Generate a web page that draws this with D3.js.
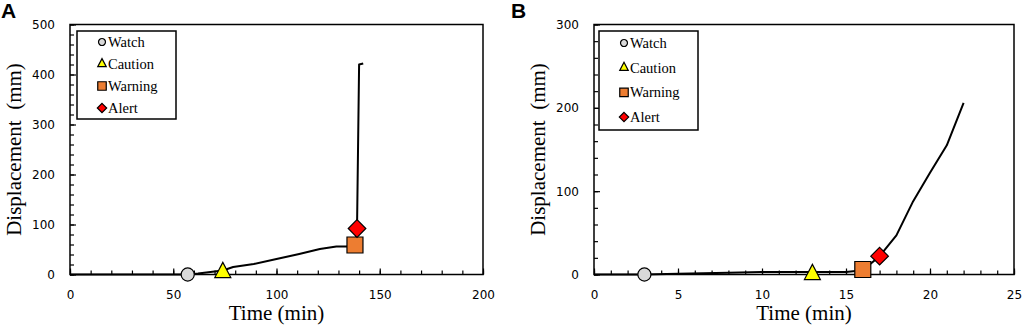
<!DOCTYPE html>
<html><head><meta charset="utf-8">
<script src="https://cdn.jsdelivr.net/npm/d3@7"></script>
<style>body{margin:0;background:#fff}svg{display:block}</style>
</head><body>
<svg id="c" width="1024" height="326"></svg>
<script>
// Panel A data
const timeA = [0, 57, 62, 74, 79, 89, 100, 111, 121, 129, 134, 138, 139, 140, 142];
const dispA = [0, 0, 2, 8, 15, 21, 31, 41, 51, 56, 56, 60, 93, 420, 422];
const markTimeA = [57, 74, 138, 139];
const markDispA = [0, 4, 59, 92];
const xTicksA = [0, 50, 100, 150, 200];
const yTicksA = [0, 100, 200, 300, 400, 500];

// Panel B data
const timeB = [0, 3, 5, 8, 10, 13, 15, 16, 17, 18, 19, 20, 21, 22];
const dispB = [0, 0, 1, 2, 3, 3, 3, 5, 22, 47, 88, 122, 155, 206];
const markTimeB = [3, 13, 16, 17];
const markDispB = [0, 0, 6, 22];
const xTicksB = [0, 5, 10, 15, 20, 25];
const yTicksB = [0, 100, 200, 300];

const levels = ["Watch", "Caution", "Warning", "Alert"];
const levelFill = ["#d9d9d9", "#ffff00", "#ed7d31", "#ff0000"];

const svg = d3.select("#c");

function markerPath(kind, s) {
  const p = d3.path();
  if (kind === 0) { p.arc(0, 0, s * 0.41, 0, 2 * Math.PI); }
  else if (kind === 1) { const w = s * 0.5, h = s * 0.95; p.moveTo(0, -h * 2 / 3); p.lineTo(w, h / 3); p.lineTo(-w, h / 3); p.closePath(); }
  else if (kind === 2) { const h = s / 2; p.rect(-h, -h, s, s); }
  else { const h = s * 0.55; p.moveTo(0, -h); p.lineTo(h, 0); p.lineTo(0, h); p.lineTo(-h, 0); p.closePath(); }
  return p.toString();
}

function panel(cfg) {
  const g = svg.append("g");
  const x = d3.scaleLinear().domain(cfg.xDom).range([cfg.left, cfg.right]);
  const y = d3.scaleLinear().domain(cfg.yDom).range([cfg.bottom, cfg.top]);

  // minor ticks (inside)
  const xMinor = d3.range(cfg.xDom[0], cfg.xDom[1] + 1e-9, cfg.xMinor);
  const yMinor = d3.range(cfg.yDom[0], cfg.yDom[1] + 1e-9, cfg.yMinor);
  const xAxis = d3.axisBottom(x).tickValues(xMinor).tickSize(-4).tickFormat("");
  const yAxis = d3.axisLeft(y).tickValues(yMinor).tickSize(-4).tickFormat("");
  g.append("g").attr("transform", `translate(0,${cfg.bottom})`).call(xAxis)
    .call(a => a.select(".domain").remove()).selectAll("line").attr("stroke", "#000").attr("stroke-width", 1.2);
  g.append("g").attr("transform", `translate(${cfg.left},0)`).call(yAxis)
    .call(a => a.select(".domain").remove()).selectAll("line").attr("stroke", "#000").attr("stroke-width", 1.2);
  // major ticks with labels
  const xMaj = d3.axisBottom(x).tickValues(cfg.xTicks).tickSize(-6).tickPadding(16);
  const yMaj = d3.axisLeft(y).tickValues(cfg.yTicks).tickSize(-6).tickPadding(15);
  const gx = g.append("g").attr("transform", `translate(0,${cfg.bottom})`).call(xMaj);
  gx.select(".domain").remove();
  gx.selectAll("line").attr("stroke", "#000").attr("stroke-width", 1.2);
  gx.selectAll("text").attr("font-family", "DejaVu Sans, Verdana, sans-serif").attr("font-size", 12).attr("fill", "#000").attr("dy", "0.71em");
  const gy = g.append("g").attr("transform", `translate(${cfg.left},0)`).call(yMaj);
  gy.select(".domain").remove();
  gy.selectAll("line").attr("stroke", "#000").attr("stroke-width", 1.2);
  gy.selectAll("text").attr("font-family", "DejaVu Sans, Verdana, sans-serif").attr("font-size", 12).attr("fill", "#000");

  // frame
  g.append("rect").attr("x", cfg.left).attr("y", cfg.top)
    .attr("width", cfg.right - cfg.left).attr("height", cfg.bottom - cfg.top)
    .attr("fill", "none").attr("stroke", "#000").attr("stroke-width", 1.5);

  // line
  const pts = cfg.t.map((t, i) => [t, cfg.d[i]]);
  g.append("path").datum(pts)
    .attr("d", d3.line().x(d => x(d[0])).y(d => y(d[1])))
    .attr("fill", "none").attr("stroke", "#000").attr("stroke-width", 2).attr("stroke-linejoin", "round");

  // markers
  cfg.mt.forEach((t, i) => {
    const sz = [16, 16, 16, 16][i];
    g.append("path").attr("d", markerPath(i, sz))
      .attr("transform", `translate(${x(t)},${y(cfg.md[i])})`)
      .attr("fill", levelFill[i]).attr("stroke", "#000").attr("stroke-width", 1.2);
  });

  // legend
  const L = cfg.legend;
  g.append("rect").attr("x", L.x0).attr("y", L.y0).attr("width", L.x1 - L.x0).attr("height", L.y1 - L.y0)
    .attr("fill", "#fff").attr("stroke", "#000").attr("stroke-width", 1.5);
  levels.forEach((name, i) => {
    const yy = L.first + i * L.step;
    g.append("path").attr("d", markerPath(i, 8.5))
      .attr("transform", `translate(${L.mx},${yy})`)
      .attr("fill", levelFill[i]).attr("stroke", "#000").attr("stroke-width", 1.2);
    g.append("text").attr("x", L.mx + 6).attr("y", yy + 5)
      .attr("font-family", "Liberation Serif, Times New Roman, serif").attr("font-size", 14.5)
      .text(name);
  });

  // axis titles
  g.append("text").attr("x", (cfg.left + cfg.right) / 2).attr("y", 320)
    .attr("text-anchor", "middle").attr("font-family", "Liberation Serif, Times New Roman, serif")
    .attr("font-size", 21).text("Time (min)");
  g.append("text").attr("transform", `translate(${cfg.left - 49},${(cfg.top + cfg.bottom) / 2}) rotate(-90)`)
    .attr("text-anchor", "middle").attr("font-family", "Liberation Serif, Times New Roman, serif")
    .attr("font-size", 21).attr("xml:space", "preserve").style("white-space", "pre").text("Displacement  (mm)");
  // panel letter
  g.append("text").attr("x", cfg.letterX).attr("y", 18)
    .attr("font-family", "Liberation Sans, Arial, sans-serif").attr("font-weight", "bold")
    .attr("font-size", 21).text(cfg.letter);
}

panel({
  letter: "A", letterX: 1,
  left: 70, right: 483, top: 24.5, bottom: 274.5,
  xDom: [0, 200], yDom: [0, 500], xMinor: 10, yMinor: 20,
  xTicks: xTicksA, yTicks: yTicksA,
  t: timeA, d: dispA, mt: markTimeA, md: markDispA,
  legend: { x0: 77, x1: 176, y0: 31, y1: 119, mx: 102, first: 42, step: 22 }
});
panel({
  letter: "B", letterX: 511,
  left: 594, right: 1014, top: 24.5, bottom: 274.5,
  xDom: [0, 25], yDom: [0, 300], xMinor: 1, yMinor: 20,
  xTicks: xTicksB, yTicks: yTicksB,
  t: timeB, d: dispB, mt: markTimeB, md: markDispB,
  legend: { x0: 599, x1: 698, y0: 31, y1: 130, mx: 624, first: 43, step: 24.7 }
});
</script>
</body></html>
